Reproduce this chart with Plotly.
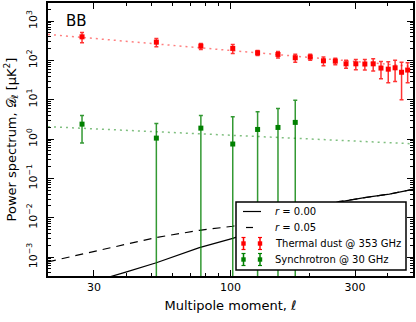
import plotly.graph_objects as go
import numpy as np

# multipole bin centres
ell = [27, 52, 77, 102, 127, 152, 177, 202, 227, 252, 277, 302, 327, 352, 377, 402, 427, 452, 477]

# thermal dust @ 353 GHz
dust = [398, 292, 231, 202, 156, 142, 117, 122, 98, 96, 82, 82, 81, 82, 64, 60, 65, 50, 57]
dust_err = [115, 68, 40, 52, 23, 26, 27, 21, 25, 18, 19, 24, 24, 28, 30, 33, 36, 40, 30]

# synchrotron @ 30 GHz
sync_ell = [27, 52, 77, 102, 127, 152, 177]
sync = [2.4, 1.06, 1.9, 0.75, 1.76, 1.98, 2.66]
sync_err = [1.6, 1.45, 2.1, 2.95, 3.2, 4.0, 7.1]

# power-law fits (dotted)
fit_ell = [20, 500]
dust_fit = [459, 70]
sync_fit = [2.07, 0.76]

# theory BB spectra
th_ell = [20, 30, 35, 40, 52, 76, 102, 150, 200, 262, 330, 406, 500]
bb_r000 = [1.1e-4, 2.4e-4, 3.2e-4, 4.2e-4, 7.2e-4, 1.74e-3, 3.0e-3, 7.2e-3, 1.38e-2, 2.55e-2, 3.3e-2, 4.0e-2, 5.3e-2]
bb_r005 = [7.6e-4, 1.4e-3, 1.75e-3, 2.15e-3, 3.16e-3, 4.8e-3, 6.1e-3, 1.0e-2, 1.55e-2, 2.6e-2, 3.32e-2, 4.01e-2, 5.3e-2]

legend_labels = ['<i>r</i> = 0.00', '<i>r</i> = 0.05', 'Thermal dust @ 353 GHz', 'Synchrotron @ 30 GHz']

RED = 'rgb(255,0,0)'
GREEN = 'rgb(0,128,0)'

# plot area in pixels (figure 416x322)
L, R, T, B = 48, 413, 3, 276


def px(x):
    return (x - L) / (R - L)


def py(y):
    return (B - y) / (B - T)


fig = go.Figure()

fig.add_trace(go.Scatter(x=th_ell, y=bb_r000, mode='lines', line=dict(color='black', width=1.2),
                         name=legend_labels[0]))
fig.add_trace(go.Scatter(x=th_ell, y=bb_r005, mode='lines', line=dict(color='black', width=1.2, dash='8px,6px'),
                         name=legend_labels[1]))

fig.add_trace(go.Scatter(x=fit_ell, y=dust_fit, mode='lines', showlegend=False,
                         line=dict(color='rgba(255,0,0,0.5)', width=1.5, dash='2px,4px')))
fig.add_trace(go.Scatter(x=fit_ell, y=sync_fit, mode='lines', showlegend=False,
                         line=dict(color='rgba(0,128,0,0.5)', width=1.5, dash='2px,4px')))

fig.add_trace(go.Scatter(x=ell, y=dust, mode='markers', name=legend_labels[2],
                         marker=dict(color=RED, size=5, symbol='square'),
                         error_y=dict(type='data', array=dust_err, color='rgba(255,0,0,0.8)', thickness=1.5, width=2)))
fig.add_trace(go.Scatter(x=sync_ell, y=sync, mode='markers', name=legend_labels[3],
                         marker=dict(color=GREEN, size=5, symbol='square'),
                         error_y=dict(type='data', array=sync_err, color='rgba(0,128,0,0.8)', thickness=1.5, width=2)))

ytick_vals = [10.0 ** k for k in range(-3, 4)]
ytick_text = ['10<sup>%s</sup>' % (str(k).replace('-', '−')) for k in range(-3, 4)]
y_minor = [m * 10.0 ** k for k in range(-4, 4) for m in range(2, 10)]
x_minor = [20, 40, 50, 60, 70, 80, 90, 200, 400, 500]

fig.add_annotation(text='BB', x=0.045, y=0.975, xref='paper', yref='paper', xanchor='left', yanchor='top',
                   showarrow=False, font=dict(size=15, color='black'))

# hand-built compact legend (matplotlib style box)
shapes = []
shapes.append(dict(type='rect', xref='paper', yref='paper', x0=px(236), x1=px(406), y0=py(270), y1=py(202),
                   fillcolor='white', line=dict(color='black', width=1.5), layer='above'))
rows = [211.5, 227.5, 243.5, 259.5]
shapes.append(dict(type='line', xref='paper', yref='paper', x0=px(243), x1=px(261), y0=py(rows[0]), y1=py(rows[0]),
                   line=dict(color='black', width=1.2), layer='above'))
shapes.append(dict(type='line', xref='paper', yref='paper', x0=px(246), x1=px(253), y0=py(rows[1]), y1=py(rows[1]),
                   line=dict(color='black', width=1.2), layer='above'))
for row, col in [(rows[2], RED), (rows[3], GREEN)]:
    for cx in (243.5, 260):
        shapes.append(dict(type='line', xref='paper', yref='paper', x0=px(cx), x1=px(cx),
                           y0=py(row - 6), y1=py(row + 6), line=dict(color=col, width=1.5), layer='above'))
        for cy in (row - 6, row + 6):
            shapes.append(dict(type='line', xref='paper', yref='paper', x0=px(cx - 2), x1=px(cx + 2),
                               y0=py(cy), y1=py(cy), line=dict(color=col, width=1.2), layer='above'))
        shapes.append(dict(type='rect', xref='paper', yref='paper', x0=px(cx - 2.2), x1=px(cx + 2.2),
                           y0=py(row + 2.2), y1=py(row - 2.2), fillcolor=col, line=dict(width=0), layer='above'))
for row, lab in zip(rows, legend_labels):
    fig.add_annotation(text=lab, x=px(273), y=py(row), xref='paper', yref='paper', xanchor='left',
                       yanchor='middle', showarrow=False, font=dict(size=10, color='black'))

fig.update_layout(
    width=416, height=322,
    margin=dict(l=48, r=3, t=3, b=46),
    paper_bgcolor='white', plot_bgcolor='white',
    font=dict(family='DejaVu Sans', size=11, color='black'),
    shapes=shapes,
    xaxis=dict(type='log', range=[np.log10(20), np.log10(500)], automargin=False,
               tickvals=[30, 100, 300], ticktext=['30', '100', '300'],
               ticks='inside', ticklen=6, tickcolor='black', mirror='allticks',
               showline=True, linecolor='black', linewidth=1.5, showgrid=False, zeroline=False,
               minor=dict(tickvals=x_minor, ticks='inside', ticklen=3, tickcolor='black', showgrid=False),
               title=dict(text='Multipole moment, <i>ℓ</i>', standoff=8)),
    yaxis=dict(type='log', range=[-3.48, 3.46], automargin=False,
               tickvals=ytick_vals, ticktext=ytick_text, tickangle=-90, ticklabelstandoff=5,
               ticks='inside', ticklen=6, tickcolor='black', mirror='allticks',
               showline=True, linecolor='black', linewidth=1.5, showgrid=False, zeroline=False,
               minor=dict(tickvals=y_minor, ticks='inside', ticklen=3, tickcolor='black', showgrid=False),
               title=dict(text='Power spectrum, 𝒟<sub>ℓ</sub> [μK<sup>2</sup>]', standoff=6)),
    showlegend=False,
)

fig.write_html("out.html", config={'displayModeBar': False},
               post_script="document.body.style.margin='0';")
